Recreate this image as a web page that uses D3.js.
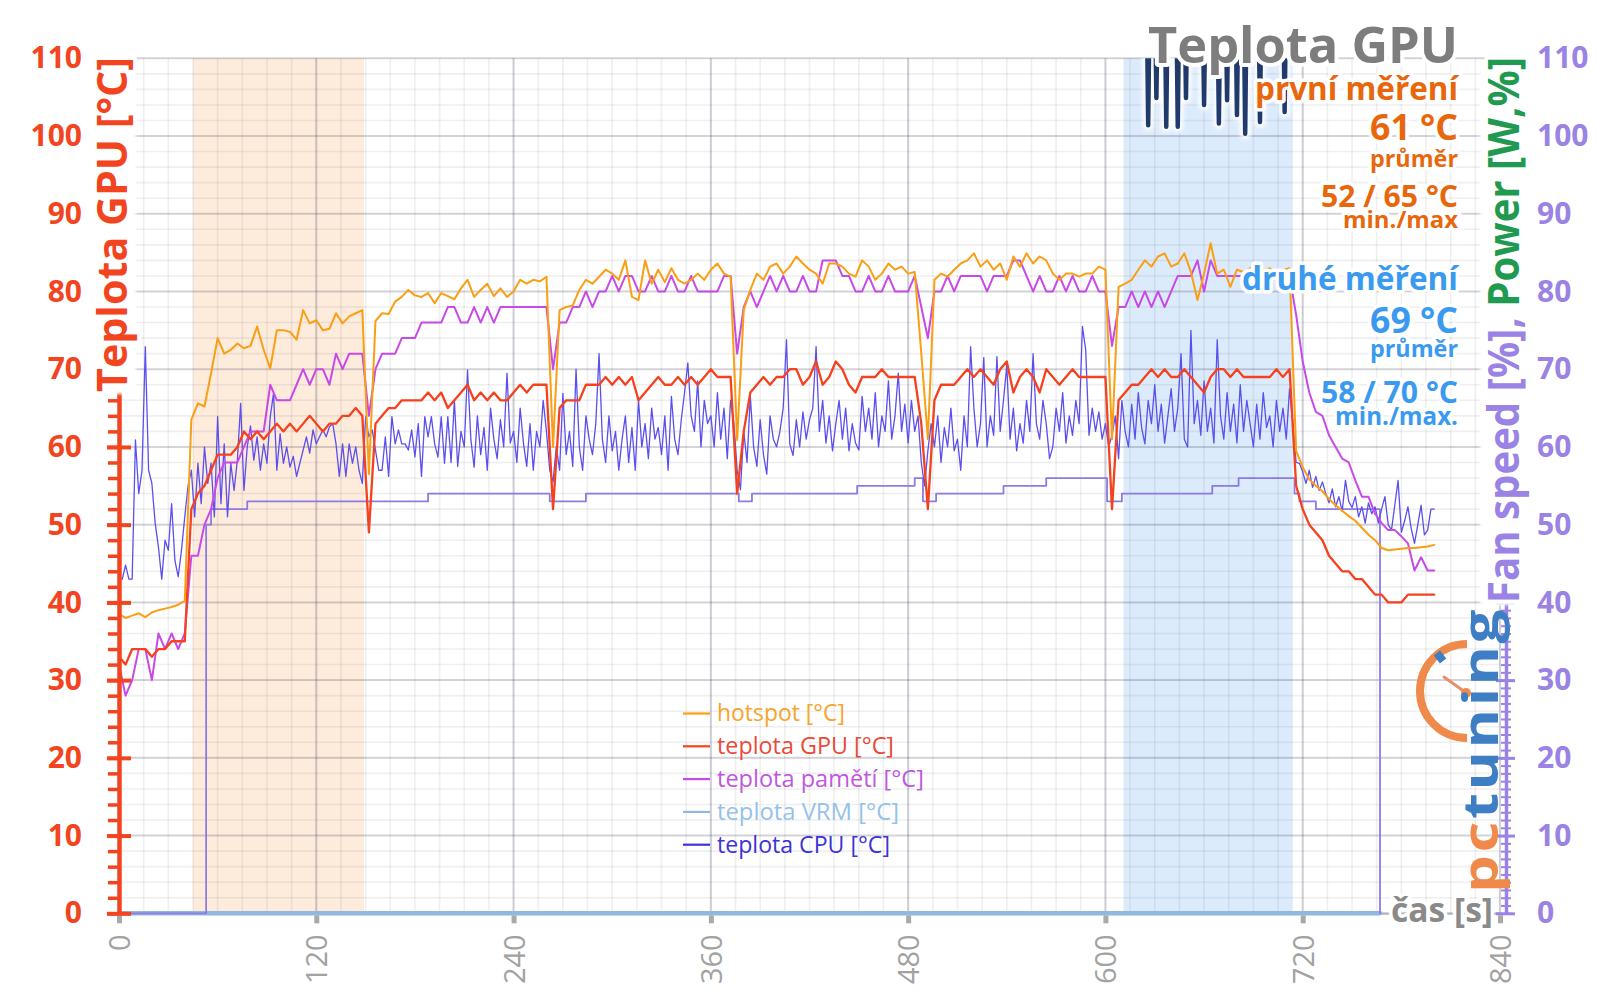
<!DOCTYPE html>
<html lang="cs">
<head>
<meta charset="utf-8">
<title>Teplota GPU</title>
<script src="https://cdn.jsdelivr.net/npm/d3@7/dist/d3.min.js"></script>
<style>
  html, body { margin: 0; padding: 0; background: #ffffff; }
  svg { display: block; }
  text { font-family: "Open Sans", "Noto Sans", "DejaVu Sans", sans-serif; }
</style>
</head>
<body>
<svg id="chart" width="1600" height="1008" xmlns="http://www.w3.org/2000/svg"></svg>
<script>
// ================= DATA =================
const xTicks = [0, 120, 240, 360, 480, 600, 720, 840];
const yTicks = [0, 10, 20, 30, 40, 50, 60, 70, 80, 90, 100, 110];

// hotspot, GPU and memory temperatures sampled every 4 s (0 … 800 s)
const SAMPLE_STEP = 4;
const hotspot = [
  38.5, 38, 38.3, 38.6, 38.1, 38.7, 39, 39.2, 39.4, 39.7,
  40.2, 63.5, 65.6, 65.2, 69.5, 74, 72, 72.5, 73.3, 72.7,
  73, 75.5, 72.5, 70.1, 75, 75, 74.8, 73.8, 77.6, 75.9,
  76.3, 75, 75.2, 77.2, 75.9, 76.8, 77.2, 77.6, 56.5, 76.2,
  77.2, 77.1, 78.7, 79.3, 80.2, 79.5, 79.3, 79.8, 78.5, 79.8,
  79.4, 79, 80.4, 81.5, 79.3, 80.2, 81, 79.4, 80.4, 79.3,
  80, 81.5, 81, 81.5, 81.3, 81.9, 60, 77.6, 78, 78.2,
  80.2, 81.5, 81, 81.9, 82.8, 82.3, 81.5, 84, 79.3, 78.9,
  84, 81, 82.8, 81.2, 83, 81.5, 81, 81.5, 82.3, 81.5,
  82.8, 83.6, 82.3, 81.9, 60.9, 77.6, 80.2, 82.3, 81.5, 83.2,
  83.6, 82.3, 83.2, 84.5, 83.6, 82.8, 82.3, 81, 83.6, 83.6,
  83.2, 82.3, 81.9, 84, 83.2, 81.5, 82.3, 83.6, 82.8, 83.2,
  82.3, 82.5, 72, 61, 81.5, 82.3, 81.9, 82.8, 83.6, 84,
  84.9, 83.2, 84, 82.8, 83.6, 81.5, 84.5, 83.2, 84.9, 83.6,
  84.5, 84, 82.3, 81.5, 82.3, 82.3, 81.9, 82.3, 82.3, 83.2,
  82.8, 61, 80.6, 81, 81.5, 82.8, 84, 83.2, 84.5, 84.9,
  83.2, 83.6, 84.9, 82.5, 78.9, 82.3, 86.2, 82.3, 82.8, 80.6,
  82.8, 82.5, 83, 82.5, 82.8, 83, 82.3, 82.8, 83, 59.5,
  57.4, 55.8, 55, 54.3, 53.3, 52.5, 51.8, 51.1, 50.5, 49.6,
  48.7, 48, 47, 46.7, 46.8, 46.9, 47, 47, 47.1, 47.2,
  47.4
];
const gpuTemp = [
  33, 32, 34, 34, 34, 33, 34, 34, 35, 35,
  35, 52, 54, 55, 57, 59, 59, 59, 60, 62,
  61, 62, 61, 62, 63, 62, 63, 62, 63, 64,
  63, 62, 63, 63, 64, 64, 65, 64, 49, 63,
  64, 65, 65, 66, 66, 66, 66, 67, 66, 67,
  65, 66, 67, 68, 66, 67, 66, 67, 66, 66,
  67, 68, 67, 68, 68, 68, 52, 65, 66, 66,
  66, 68, 68, 68, 69, 68, 69, 68, 69, 66,
  67, 68, 69, 68, 68, 69, 68, 69, 68, 69,
  70, 69, 69, 69, 54, 62, 67, 68, 69, 68,
  69, 69, 70, 70, 68, 69, 71, 68, 69, 71,
  70, 68, 67, 69, 69, 69, 70, 69, 69, 69,
  69, 69, 63, 52, 66, 68, 68, 68, 69, 70,
  69, 70, 69, 68, 70, 71, 67, 69, 70, 69,
  67, 70, 69, 68, 69, 70, 69, 69, 69, 69,
  69, 52, 66, 67, 68, 68, 69, 70, 69, 70,
  69, 69, 70, 69, 68, 67, 69, 70, 70, 69,
  70, 69, 69, 69, 69, 69, 70, 69, 70, 55,
  52, 50, 49, 48, 46, 45, 44, 44, 43, 43,
  42, 41, 41, 40, 40, 40, 41, 41, 41, 41,
  41
];
const memTemp = [
  32, 28, 30, 34, 34, 30, 36, 34, 36, 34,
  36, 46, 46, 50, 52, 56, 58, 58, 58, 60,
  62, 62, 62, 68, 66, 66, 66, 68, 70, 68,
  70, 70, 68, 72, 70, 72, 72, 72, 64, 70,
  72, 72, 72, 74, 74, 74, 76, 76, 76, 76,
  78, 78, 76, 76, 78, 76, 78, 76, 78, 78,
  78, 78, 78, 78, 78, 78, 70, 76, 76, 78,
  78, 80, 78, 80, 80, 82, 80, 82, 82, 80,
  80, 82, 80, 80, 82, 80, 80, 82, 80, 80,
  80, 80, 82, 82, 72, 78, 80, 78, 80, 82,
  80, 82, 80, 80, 82, 80, 80, 84, 84, 84,
  82, 82, 80, 80, 82, 80, 80, 82, 80, 80,
  80, 82, 78, 74, 80, 80, 82, 80, 82, 82,
  82, 82, 80, 82, 82, 82, 84, 84, 82, 80,
  82, 80, 80, 82, 80, 82, 80, 80, 82, 80,
  80, 73, 78, 78, 80, 78, 80, 78, 80, 78,
  80, 82, 82, 82, 84, 80, 84, 82, 82, 82,
  82, 82, 82, 82, 82, 82, 82, 82, 82, 77,
  71, 67, 64.5, 64, 61.5, 60, 58.5, 58, 55.7, 53.6,
  53.6, 51.4, 50.2, 49.3, 49.3, 48.5, 47.6, 44.1, 45.8, 44.1,
  44.1
];

// CPU temperature sampled every 2 s (0 … 800 s)
const CPU_STEP = 2;
const cpuTemp = [
  43, 43, 44.8, 43, 43, 60.9, 54, 57, 72.9, 57, 55.3, 50.2, 47.1, 43, 48, 46.7, 52.7, 45.4, 43.3, 46.7,
  51, 55, 57, 51, 57.9, 52.7, 60, 55.3, 57.9, 51, 63.9, 52.7, 60.4, 51, 57.9, 54.4, 58.3, 65.6, 54.4, 60,
  62.7, 58.3, 61.3, 57, 60.4, 57.9, 63.9, 66.9, 57, 61.7, 57.9, 60, 57.4, 58.8, 56.2, 57.9, 59.6, 61.3, 59.2, 62.2,
  60.4, 61.3, 62.2, 61.3, 62.6, 63, 60.4, 56.2, 60.4, 56.2, 60.4, 57.9, 60, 57, 55.3, 63.9, 61.3, 62.2, 59.6, 57,
  57, 61.3, 56.2, 63.9, 60.4, 62.2, 60.4, 60.4, 59.6, 62.2, 58.7, 63, 56.2, 63.9, 61.3, 63.9, 60.4, 58.7, 63.9, 57.9,
  63.9, 58, 66, 57.5, 62, 60, 69.9, 61, 57.4, 64, 59, 62.5, 57, 65, 61, 58.5, 63.5, 60, 69.5, 60.5,
  62, 58, 65, 60.5, 57.5, 63, 57, 62, 60, 66, 62, 57, 55.5, 60, 57, 66.9, 59, 62, 57.5, 70,
  60, 57, 64, 61, 59, 63, 72, 61, 58, 64, 59.5, 62, 57, 61, 64, 58, 62.5, 57, 66, 60,
  63, 58.5, 65, 61, 62.5, 59, 64, 57, 66.5, 61, 59, 63.5, 67, 70.8, 64, 62, 68.5, 60, 66, 63,
  64, 60, 67, 61, 65, 58.5, 66, 63, 57, 54.5, 62, 58, 66.5, 60, 57.5, 63.5, 59, 56.5, 64, 61,
  60, 62, 65, 73.8, 60.4, 58.9, 63.5, 60, 64.5, 61, 63.5, 65, 72.9, 62, 66, 60.5, 64, 59.5, 63, 66,
  61, 65, 59.5, 63, 60.5, 59.6, 66.5, 62, 65, 61, 67, 60, 64, 62, 68.5, 61, 64, 69.5, 62, 65.5,
  60.5, 66, 62, 64, 58, 55, 59.5, 63, 60, 64, 58, 62.5, 60, 65, 59.5, 61, 57, 64, 60, 72.9,
  65, 60, 63, 71.5, 60, 64, 61.5, 71.6, 62, 66, 70.5, 61, 65, 59.5, 63, 60.5, 66, 62, 72, 63,
  61, 66, 63, 58.5, 60, 65, 62, 67, 60.5, 64, 61.5, 66, 63, 75.5, 72.5, 61.5, 65, 62, 64.5, 61,
  63, 60, 61.5, 64, 58.5, 66, 62, 60, 65.5, 61, 67, 62.5, 60.4, 66, 63, 68, 62, 65.5, 60.5, 64,
  67.5, 62, 65, 72, 61, 60, 75, 63, 66, 61.5, 68.5, 62, 65, 60.5, 73.8, 64, 61, 67, 62, 65.5,
  60.5, 68, 62, 66, 63, 60, 65.5, 61, 67, 62.5, 64, 60, 66, 62, 65, 61, 67.5, 63, 58, 57.9,
  56.8, 55.3, 57, 54.8, 56.2, 54.4, 55.5, 54, 52.8, 54.6, 52.3, 53.6, 51.7, 55.7, 53, 52.2, 53.6, 51, 52.3, 50.2,
  52.8, 51.4, 52.3, 50.2, 52, 53.6, 50, 49.3, 52.5, 55.7, 49, 50.5, 52.3, 49.5, 47.6, 50, 52.5, 48.7, 49.3, 52,
  52
];

// VRM temperature (reads 0 the whole run)
const vrmTime = [0, 767];
const vrmTemp = [0, 0];

// fan speed [%] (right axis), step series
const fanTime  = [0, 53, 56, 78, 188, 262, 284, 377, 385, 449, 484, 489, 497, 538, 564, 601, 610, 665, 681, 715, 718, 728, 767];
const fanSpeed = [0, 50, 52, 53, 54, 53, 54, 53, 54, 55, 56, 53, 54, 55, 56, 53, 54, 55, 56, 54, 53, 52, 0];

// power [W,%] (right axis) – above the scale, only dips are visible
const powerTime  = [611, 625, 626, 627, 630, 631, 632, 636, 637, 638, 643, 644, 645, 648, 649, 650, 659, 660, 661,
                    668, 669, 670, 673, 674, 675, 679, 680, 681, 684, 685, 686, 693, 694, 695, 708, 709, 710, 714];
const powerValue = [120, 120, 101.4, 120, 120, 104.9, 120, 120, 101.2, 120, 120, 101.2, 120, 120, 104.9, 120, 120, 104, 120,
                    120, 101.6, 120, 120, 104.6, 120, 120, 102.7, 120, 120, 100.3, 120, 120, 101.8, 120, 120, 103.1, 120, 120];

// measurement windows [s]
const bandStart = [45, 611];
const bandEnd   = [149, 714];

const seriesNames = ["hotspot [°C]", "teplota GPU [°C]", "teplota pamětí [°C]", "teplota VRM [°C]", "teplota CPU [°C]"];
const statsFirst  = ["první měření", "61 °C", "průměr", "52 / 65 °C", "min./max"];
const statsSecond = ["druhé měření", "69 °C", "průměr", "58 / 70 °C", "min./max."];

// ================= STYLE / LAYOUT =================
const C = {
  hot: "#fa9f14", gpu: "#f5411d", mem: "#c849e8", vrm: "#92b8de", cpu: "#5b4fee",
  fan: "#8c7be0", power: "#1f3a6b",
  axisL: "#f2451f", axisR: "#9a83e4", green: "#1f9a50", gray: "#7d7d7d",
  first: "#e8670d", second: "#3a9af0"
};
const legendText = ["#f5a52c", "#ea4a38", "#c058dc", "#94c2ea", "#3d33d6"];
const legendLine = [C.hot, C.gpu, C.mem, C.vrm, "#3d33d6"];

const svg = d3.select("#chart");
const x  = d3.scaleLinear().domain([0, 840]).range([119, 1500]);
const y  = d3.scaleLinear().domain([0, 110]).range([913.3, 58.3]);
const yR = d3.scaleLinear().domain([0, 110]).range([913.3, 58.3]);

const defs = svg.append("defs");
defs.append("clipPath").attr("id", "clipPlot").append("rect")
  .attr("x", x(0) - 2).attr("y", y(110)).attr("width", x(840) - x(0) + 4).attr("height", y(0) - y(110) + 5);
const blur = defs.append("filter").attr("id", "soft").attr("x", "-50%").attr("y", "-50%").attr("width", "200%").attr("height", "200%");
blur.append("feGaussianBlur").attr("stdDeviation", 2.2);
const blur2 = defs.append("filter").attr("id", "soft2").attr("x", "-20%").attr("y", "-5%").attr("width", "140%").attr("height", "110%");
blur2.append("feGaussianBlur").attr("stdDeviation", 1.5);

function halo(sel, w) {
  return sel.attr("stroke", "#ffffff").attr("stroke-width", w).attr("stroke-linejoin", "round")
            .style("paint-order", "stroke");
}
function fitFont(sel, w) {
  const L = sel.node().getComputedTextLength();
  const fs = +sel.attr("font-size");
  if (L > 0) sel.attr("font-size", (fs * w / L).toFixed(2));
  return sel;
}

// ---- bands ----
const bands = bandStart.map((s, i) => ({ s, e: bandEnd[i], c: i === 0 ? "#fdebdc" : "#dcebfb" }));
svg.append("g").selectAll("rect").data(bands).join("rect")
  .attr("x", d => x(d.s)).attr("width", d => x(d.e) - x(d.s))
  .attr("y", y(110)).attr("height", y(0) - y(110)).attr("fill", d => d.c);

// ---- grid ----
const grid = svg.append("g");
grid.selectAll(".hm").data(d3.range(0, 111, 2)).join("line")
  .attr("x1", x(0)).attr("x2", x(840)).attr("y1", d => y(d)).attr("y2", d => y(d))
  .attr("stroke", "rgba(40,40,60,0.075)").attr("stroke-width", 1.6);
grid.selectAll(".vm").data(d3.range(0, 841, 15)).join("line")
  .attr("x1", d => x(d)).attr("x2", d => x(d)).attr("y1", y(0)).attr("y2", y(110))
  .attr("stroke", "rgba(40,40,60,0.075)").attr("stroke-width", 1.6);
grid.selectAll(".hM").data(yTicks).join("line")
  .attr("x1", x(0)).attr("x2", x(840)).attr("y1", d => y(d)).attr("y2", d => y(d))
  .attr("stroke", "rgba(40,40,70,0.15)").attr("stroke-width", 2);
grid.selectAll(".vM").data(xTicks).join("line")
  .attr("x1", d => x(d)).attr("x2", d => x(d)).attr("y1", y(0)).attr("y2", y(110))
  .attr("stroke", "rgba(40,40,90,0.17)").attr("stroke-width", 2.2);

// ---- x axis ----
const gX = svg.append("g").attr("transform", `translate(0,${y(0)})`)
  .call(d3.axisBottom(x).tickValues(xTicks).tickSize(0).tickSizeOuter(0));
gX.attr("font-family", null).attr("font-size", null);
gX.select(".domain").attr("stroke", "#b3b3b3").attr("stroke-width", 2);
gX.selectAll(".tick line").attr("y1", 2).attr("y2", 10).attr("stroke", "#a9a9a9").attr("stroke-width", 5);
gX.selectAll(".tick text")
  .attr("transform", "rotate(-90)").attr("x", -21).attr("y", 0).attr("dy", "0.36em")
  .style("text-anchor", "end").attr("fill", "#a2a2a2").attr("font-size", 29);

// ---- series ----
const plot = svg.append("g").attr("clip-path", "url(#clipPlot)");
function drawSeries(times, values, yScale, color, width, curve) {
  const pts = values.map((v, i) => [times[i], v]);
  return plot.append("path").datum(pts)
    .attr("fill", "none").attr("stroke", color).attr("stroke-width", width)
    .attr("stroke-linejoin", "round").attr("stroke-linecap", "round")
    .attr("d", d3.line().x(d => x(d[0])).y(d => yScale(d[1])).curve(curve || d3.curveLinear));
}
const tMain = hotspot.map((_, i) => i * SAMPLE_STEP);
const tCpu  = cpuTemp.map((_, i) => i * CPU_STEP);

drawSeries(vrmTime, vrmTemp, y, C.vrm, 4.5);
drawSeries(fanTime, fanSpeed, yR, C.fan, 1.8, d3.curveStepAfter);
drawSeries(tCpu, cpuTemp, y, C.cpu, 1.3);
drawSeries(tMain, memTemp, y, C.mem, 2);
drawSeries(tMain, gpuTemp, y, C.gpu, 2.3);
drawSeries(tMain, hotspot, y, C.hot, 2);
drawSeries(powerTime, powerValue, yR, "#ffffff", 11).attr("filter", "url(#soft)").attr("opacity", 0.9);
drawSeries(powerTime, powerValue, yR, C.power, 4.5);

// ---- left axis ----
const gLm = svg.append("g").attr("transform", `translate(${x(0)},0)`)
  .call(d3.axisLeft(y).tickValues(d3.range(0, 111, 2)).tickSize(11).tickFormat("").tickSizeOuter(0));
gLm.select(".domain").attr("stroke", C.axisL).attr("stroke-width", 4.5);
gLm.selectAll(".tick line").attr("stroke", C.axisL).attr("stroke-width", 3.5);
const gL = svg.append("g").attr("transform", `translate(${x(0)},0)`)
  .call(d3.axisLeft(y).tickValues(yTicks).tickSize(12).tickPadding(25).tickSizeOuter(0));
gL.attr("font-family", null).attr("font-size", null);
gL.select(".domain").remove();
gL.selectAll(".tick line").attr("x1", 12).attr("x2", -12).attr("stroke", C.axisL).attr("stroke-width", 4);
gL.selectAll(".tick text").attr("fill", C.axisL).attr("font-size", 30).attr("font-weight", 700);

// ---- right axis ----
const xR = 1506;
const gRm = svg.append("g").attr("transform", `translate(${xR},0)`)
  .call(d3.axisRight(yR).tickValues(d3.range(0, 111, 1)).tickSize(5).tickFormat("").tickSizeOuter(0));
gRm.select(".domain").attr("stroke", C.axisR).attr("stroke-width", 3.5);
gRm.selectAll(".tick line").attr("x1", -5).attr("x2", 5).attr("stroke", C.axisR).attr("stroke-width", 2);
const gR = svg.append("g").attr("transform", `translate(${xR},0)`)
  .call(d3.axisRight(yR).tickValues(yTicks).tickSize(9).tickPadding(22).tickSizeOuter(0));
gR.attr("font-family", null).attr("font-size", null);
gR.select(".domain").remove();
gR.selectAll(".tick line").attr("x1", -10).attr("x2", 9).attr("stroke", C.axisR).attr("stroke-width", 3);
gR.selectAll(".tick text").attr("fill", C.axisR).attr("font-size", 30).attr("font-weight", 700);

// ---- axis titles (on a soft white backing that hides the axis line, as in the original) ----
svg.append("rect").attr("x", 94).attr("y", 64).attr("width", 42).attr("height", 330)
  .attr("fill", "#ffffff").attr("filter", "url(#soft2)");
halo(svg.append("text").attr("transform", "translate(127,224.5) rotate(-90)")
  .attr("text-anchor", "middle").attr("font-size", 42).attr("font-weight", 700)
  .attr("fill", C.axisL).attr("textLength", 335).attr("lengthAdjust", "spacingAndGlyphs")
  .text("Teplota GPU [°C]"), 8);

svg.append("rect").attr("x", 1480).attr("y", 64).attr("width", 44).attr("height", 541)
  .attr("fill", "#ffffff").attr("filter", "url(#soft2)");
const rt = svg.append("text").attr("transform", "translate(1519,330) rotate(-90)")
  .attr("text-anchor", "middle").attr("font-size", 43).attr("font-weight", 700)
  .attr("textLength", 546).attr("lengthAdjust", "spacingAndGlyphs");
rt.append("tspan").attr("fill", C.axisR).text("Fan speed [%], ");
rt.append("tspan").attr("fill", C.green).text("Power [W,%]");
halo(rt, 8);

halo(fitFont(svg.append("text").attr("x", 1493).attr("y", 922).attr("text-anchor", "end")
  .attr("font-size", 30).attr("font-weight", 700).attr("fill", "#8a8a8a").text("čas [s]"), 102), 7);

// ---- title and statistics ----
halo(fitFont(svg.append("text").attr("x", 1458).attr("y", 63).attr("text-anchor", "end")
  .attr("font-size", 52).attr("font-weight", 700).attr("fill", C.gray).text("Teplota GPU"), 310), 8);

const statLayout = [
  { base: 100, w: 203, fs: 30 }, { base: 140, w: 88, fs: 36 }, { base: 167, w: 88, fs: 22 },
  { base: 207, w: 137, fs: 28 }, { base: 228, w: 115, fs: 22 }
];
const statLayout2 = [
  { base: 290, w: 216, fs: 32 }, { base: 333, w: 88, fs: 36 }, { base: 357, w: 88, fs: 22 },
  { base: 403, w: 137, fs: 28 }, { base: 425, w: 123, fs: 22 }
];
function drawStats(lines, layout, color) {
  lines.forEach((s, i) => {
    const t = svg.append("text").attr("x", 1458).attr("y", layout[i].base).attr("text-anchor", "end")
      .attr("font-size", layout[i].fs).attr("font-weight", 700).attr("fill", color).text(s);
    fitFont(t, layout[i].w);
    halo(t, 7);
  });
}
drawStats(statsFirst, statLayout, C.first);
drawStats(statsSecond, statLayout2, C.second);

// ---- legend ----
const legendWidths = [128, 177, 207, 182, 173];
const lg = svg.append("g");
seriesNames.forEach((name, i) => {
  const yy = 713.5 + i * 32.8;
  lg.append("line").attr("x1", 683).attr("x2", 710).attr("y1", yy).attr("y2", yy)
    .attr("stroke", legendLine[i]).attr("stroke-width", 2.2);
  const t = lg.append("text").attr("x", 717).attr("y", yy).attr("dy", "0.34em")
    .attr("font-size", 23).attr("fill", legendText[i]).text(name);
  fitFont(t, legendWidths[i]);
});

// ---- logo ----
const logo = svg.append("g");
logo.append("path")
  .attr("d", "M1467,644 A47,47 0 0 0 1467,738")
  .attr("fill", "none").attr("stroke", "#f08a4b").attr("stroke-width", 8);
logo.append("rect").attr("x", -4).attr("y", -5).attr("width", 8).attr("height", 10)
  .attr("fill", "#3d7ec4").attr("transform", "translate(1440,657) rotate(-38)");
logo.append("line").attr("x1", 1444).attr("y1", 677).attr("x2", 1465).attr("y2", 692)
  .attr("stroke", "#e8906a").attr("stroke-width", 3).attr("stroke-linecap", "round");
logo.append("circle").attr("cx", 1466).attr("cy", 693).attr("r", 5).attr("fill", "#f08a4b");
const lt = logo.append("text").attr("transform", "translate(1498,893) rotate(-90)")
  .attr("font-family", "DejaVu Sans").attr("font-weight", 700).attr("font-size", 48)
  .attr("letter-spacing", 2)
  .attr("textLength", 286).attr("lengthAdjust", "spacingAndGlyphs");
lt.append("tspan").attr("fill", "#f08a4b").text("pc");
lt.append("tspan").attr("fill", "#3d7ec4").text("tuning");
</script>
</body>
</html>
